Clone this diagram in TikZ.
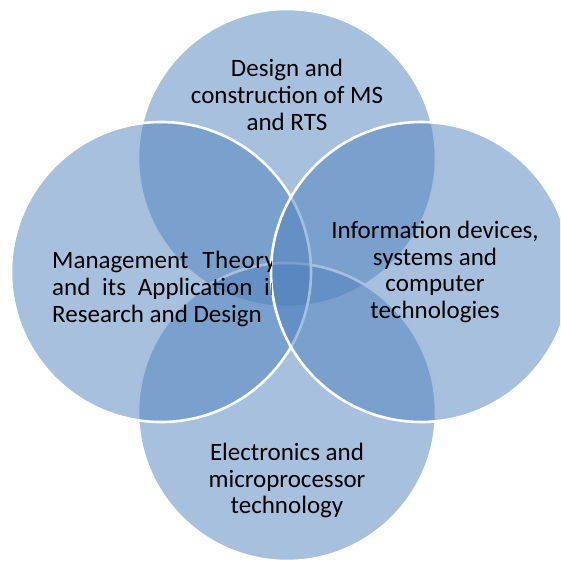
\documentclass[tikz,border=0pt]{standalone}
\usepackage{fontspec}
\setmainfont{Carlito}
\definecolor{vennblue}{HTML}{4F81BD}
\begin{document}
\begin{tikzpicture}[x=1pt,y=-1pt,
  venn/.style={fill=vennblue, fill opacity=0.5, draw=white, line width=2.6pt},
  lbl/.style={align=center, font=\fontsize{25}{26.8}\selectfont, text=black, inner sep=0pt}]
\useasboundingbox (0,0) rectangle (560,562);
\clip (0,0) rectangle (560,562);
% circles (drawing order matters for the white borders)
\draw[venn] (287,158) circle[radius=149pt];
\draw[venn] (287,412) circle[radius=149pt];
\draw[venn] (161,272) circle[radius=150pt];
\draw[venn] (421,272) circle[radius=150pt];
% labels
\node[lbl] (top) at (287,95) {Design and\\construction of MS\\and RTS};
\node[lbl] (right) at (435,272) {Information devices,\\systems and\\computer\\technologies};
\node[lbl] (bottom) at (287,480.5) {Electronics and\\microprocessor\\technology};
\begin{scope}
  \clip (0,0) rectangle (271,562);
  \node[lbl, align=left, anchor=west, font=\fontsize{25}{27.3}\selectfont] (left) at (52,289)
    {Management\hspace{14pt}{\addfontfeature{LetterSpace=2}Theory}\\\makebox[231pt][s]{and its Application in}\\Research and Design};
\end{scope}
\end{tikzpicture}
\end{document}
